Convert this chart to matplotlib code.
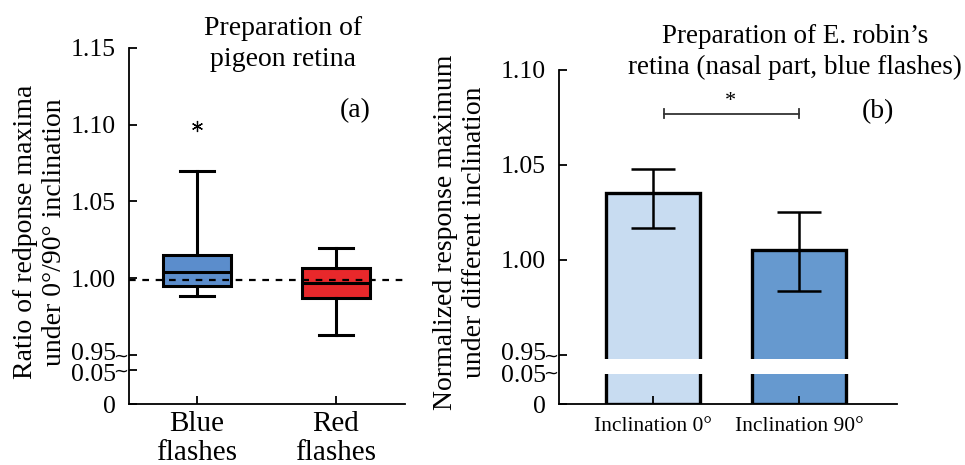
import numpy as np
import matplotlib
matplotlib.use("Agg")
import matplotlib.pyplot as plt
from matplotlib.transforms import offset_copy, ScaledTranslation

plt.rcParams["font.family"] = ["Liberation Serif", "DejaVu Serif"]

# Panel (a): box plot statistics
box_labels = ["Blue\nflashes", "Red\nflashes"]
box_med = [1.004, 0.997]
box_q1 = [0.995, 0.987]
box_q3 = [1.015, 1.007]
box_lo = [0.9885, 0.963]
box_hi = [1.070, 1.020]
box_fliers = [[1.099], []]
box_colors = ["#5b8dcc", "#e8282b"]
ref_line = 0.999

# Panel (b): bar chart
bar_labels = ["Inclination 0°", "Inclination 90°"]
bar_vals = [1.035, 1.005]
bar_err_lo = [0.0185, 0.0215]
bar_err_hi = [0.013, 0.020]
bar_colors = ["#c8dcf1", "#6699cf"]

a_ticks = [0, 0.05, 0.95, 1.00, 1.05, 1.10, 1.15]
b_ticks = [0, 0.05, 0.95, 1.00, 1.05, 1.10]


def broken_scale(vals, pix):
    vals = np.array(vals)
    pix = np.array(pix, dtype=float)

    def fwd(v):
        return np.interp(v, vals, pix)

    def inv(p):
        return np.interp(p, pix, vals)

    return fwd, inv


def style_axis(ax, ticks):
    for s in ["top", "right"]:
        ax.spines[s].set_visible(False)
    for s in ["left", "bottom"]:
        ax.spines[s].set_linewidth(1.3)
    ax.set_yticks(ticks)
    ax.set_yticklabels(["0" if t == 0 else f"{t:.2f}" for t in ticks])
    ax.tick_params(axis="both", direction="in", length=6, width=1.3)
    ax.tick_params(axis="y", labelsize=18.5, pad=9.5)
    # spread the two labels around the break a little, like the original
    labs = ax.get_yticklabels()
    labs[1].set_transform(labs[1].get_transform() + ScaledTranslation(0, -1.5 / 72, ax.figure.dpi_scale_trans))
    labs[2].set_transform(labs[2].get_transform() + ScaledTranslation(0, 2.5 / 72, ax.figure.dpi_scale_trans))
    # break marks on the left side of the spine
    for t in [0.95, 0.05]:
        tr = offset_copy(ax.get_yaxis_transform(), fig=ax.figure, x=-0.5, y=-1, units="points")
        ax.text(0, t, "~", transform=tr, ha="right", va="center", fontsize=13,
                family="DejaVu Sans")


fig = plt.figure(figsize=(9.65, 4.65), dpi=100)

# ---------- panel (a)
ax1 = fig.add_axes([129 / 965, 61 / 465, 276 / 965, 356 / 465])
f, i = broken_scale([0, 0.05, 0.95, 1.15], [0, 34, 49, 356])
ax1.set_yscale("function", functions=(f, i))
ax1.set_ylim(0, 1.15)
ax1.set_xlim(-0.49, 1.5)

stats = []
for k in range(2):
    stats.append({"med": box_med[k], "q1": box_q1[k], "q3": box_q3[k],
                  "whislo": box_lo[k], "whishi": box_hi[k], "fliers": box_fliers[k]})
bp = ax1.bxp(stats, positions=[0, 1], widths=0.49, patch_artist=True,
             boxprops=dict(linewidth=2.2, edgecolor="black"),
             medianprops=dict(color="black", linewidth=2.2),
             whiskerprops=dict(linewidth=2.2),
             capprops=dict(linewidth=2.2),
             flierprops=dict(marker=(6, 2, 0), markersize=8, markeredgewidth=0.9,
                             markeredgecolor="black"))
for patch, c in zip(bp["boxes"], box_colors):
    patch.set_facecolor(c)
ax1.axhline(ref_line, color="black", linestyle=(0, (3, 3)), linewidth=1.6, zorder=5)
ax1.set_xticks([0, 1])
style_axis(ax1, a_ticks)
ax1.set_xticklabels(box_labels, fontsize=21, linespacing=1.15)
ax1.tick_params(axis="x", pad=5)
ax1.text(0.82, 0.825, "(a)", transform=ax1.transAxes, fontsize=20, ha="center", va="center")

fig.text(283 / 965, 1 - 44 / 465, "Preparation of\npigeon retina", ha="center", va="center",
         fontsize=20, linespacing=1.35)
fig.text(40 / 965, 1 - 232 / 465, "Ratio of redponse maxima\nunder 0°/90° inclination",
         rotation=90, ha="center", va="center", fontsize=20, linespacing=1.2)

# ---------- panel (b)
ax2 = fig.add_axes([559 / 965, 61 / 465, 338 / 965, 334 / 465])
f2, i2 = broken_scale([0, 0.05, 0.95, 1.10], [0, 32, 49, 332])
ax2.set_yscale("function", functions=(f2, i2))
ax2.set_ylim(0, 1.10)
ax2.set_xlim(-0.644, 1.67)

xb = np.arange(len(bar_vals))
ax2.bar(xb, bar_vals, width=0.64, color=bar_colors, edgecolor="black", linewidth=2.4,
        zorder=1)
ax2.errorbar(xb, bar_vals, yerr=[bar_err_lo, bar_err_hi], fmt="none", ecolor="black",
             elinewidth=1.8, capsize=16, capthick=1.8, zorder=3)
# white gap across the axis break
ax2.axhspan(0.047, 0.74, color="white", zorder=2, linewidth=0)
ax2.set_xticks(xb)
style_axis(ax2, b_ticks)
ax2.set_xticklabels(bar_labels, fontsize=15.5)
ax2.tick_params(axis="x", pad=9)

# significance bracket
ax2.plot([0.075, 1.0], [1.077, 1.077], color="#333333", linewidth=1.3)
ax2.plot([0.075, 0.075], [1.0745, 1.0795], color="#333333", linewidth=1.3)
ax2.plot([1.0, 1.0], [1.0745, 1.0795], color="#333333", linewidth=1.3)
ax2.text(0.53, 1.0835, "*", ha="center", va="center", fontsize=16)
ax2.text(0.945, 0.875, "(b)", transform=ax2.transAxes, fontsize=20, ha="center", va="center")

fig.text(795 / 965, 1 - 52 / 465, "Preparation of E. robin’s\nretina (nasal part, blue flashes)",
         ha="center", va="center", fontsize=19.5, linespacing=1.35)
fig.text(460 / 965, 1 - 232 / 465, "Normalized response maximum\nunder different inclination",
         rotation=90, ha="center", va="center", fontsize=20, linespacing=1.2)

fig.savefig("out.png", dpi=100)
